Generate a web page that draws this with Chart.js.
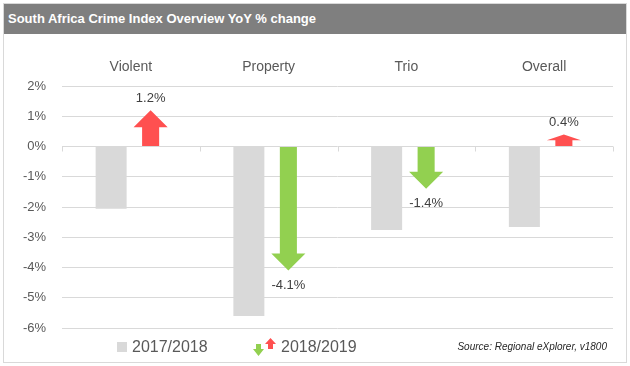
<!DOCTYPE html>
<html>
<head>
<meta charset="utf-8">
<script src="https://cdn.jsdelivr.net/npm/chart.js@4.4.1/dist/chart.umd.min.js"></script>
<style>
  body { margin:0; background:#fff; font-family:"Liberation Sans", Arial, sans-serif; }
  #frame { position:absolute; left:3px; top:3px; width:622px; height:358px; border:1px solid #d9d9d9; }
  #title { position:absolute; left:4px; top:4px; width:622px; height:30px; background:#7f7f7f;
           color:#fff; font-weight:bold; font-size:13px; line-height:30px; text-indent:4px; }
  #wrap { position:absolute; left:4px; top:34px; width:622px; height:328px; }
  .lg { position:absolute; font-size:16px; color:#595959; line-height:18px; }
  #src { position:absolute; right:23px; top:341px; font-size:10px; font-style:italic; color:#262626; }
</style>
</head>
<body>
<div id="frame"></div>
<div id="title">South Africa Crime Index Overview YoY % change</div>
<div id="wrap"><canvas id="chart"></canvas></div>
<div style="position:absolute;left:117px;top:342px;width:10px;height:10px;background:#d9d9d9"></div>
<div class="lg" style="left:132px;top:338px">2017/2018</div>
<svg style="position:absolute;left:253px;top:338px" width="24" height="18">
  <polygon points="3,6 8,6 8,11 11,11 5.5,18 0,11 3,11" fill="#92d050"/>
  <polygon points="15,11 20,11 20,6 23,6 17.5,0 12,6 15,6" fill="#ff5050"/>
</svg>
<div class="lg" style="left:281px;top:338px">2018/2019</div>
<div id="src">Source: Regional eXplorer, v1800</div>
<script>
// категории и значения
const categories = ['Violent', 'Property', 'Trio', 'Overall'];
const prevYear = [-2.06, -5.6, -2.76, -2.66];   // 2017/2018
const curYear = [1.2, -4.1, -1.4, 0.4];         // 2018/2019
const yTicks = [2, 1, 0, -1, -2, -3, -4, -5, -6];

// стрелки вместо столбцов второго ряда
const arrowPlugin = {
  id: 'arrows',
  afterDatasetsDraw(chart) {
    const ctx = chart.ctx;
    const meta = chart.getDatasetMeta(1);
    const ys = chart.scales.y, xs = chart.scales.x;
    const y0 = ys.getPixelForValue(0);
    // засечки на нулевой линии
    const cw = (xs.right - xs.left) / categories.length;
    ctx.save();
    ctx.strokeStyle = '#d9d9d9';
    ctx.lineWidth = 1;
    for (let i = 0; i <= categories.length; i++) {
      const x = Math.round(xs.left + i * cw) + 0.5;
      ctx.beginPath(); ctx.moveTo(x, y0); ctx.lineTo(x, y0 + 5); ctx.stroke();
    }
    meta.data.forEach((bar, i) => {
      const v = curYear[i];
      const x = bar.x, tip = bar.y, base = bar.base;
      const w = bar.width;
      const dir = v >= 0 ? -1 : 1;
      const len = Math.abs(base - tip);
      const head = Math.min(17, len * 0.5);
      const sw = w * 0.55 / 2, hw = w * 1.1 / 2;
      const neck = tip - dir * head;
      ctx.fillStyle = v >= 0 ? '#ff5050' : '#92d050';
      ctx.beginPath();
      ctx.moveTo(x - sw, base);
      ctx.lineTo(x - sw, neck);
      ctx.lineTo(x - hw, neck);
      ctx.lineTo(x, tip);
      ctx.lineTo(x + hw, neck);
      ctx.lineTo(x + sw, neck);
      ctx.lineTo(x + sw, base);
      ctx.closePath();
      ctx.fill();
      ctx.fillStyle = '#404040';
      ctx.font = '13px "Liberation Sans", Arial, sans-serif';
      ctx.textAlign = 'center';
      ctx.textBaseline = 'middle';
      ctx.fillText(v.toFixed(1) + '%', x, v >= 0 ? tip - 12 : tip + 15);
    });
    ctx.restore();
  }
};

new Chart(document.getElementById('chart'), {
  type: 'bar',
  data: {
    labels: categories,
    datasets: [
      { label: '2017/2018', data: prevYear, backgroundColor: '#d9d9d9',
        categoryPercentage: 0.5735, barPercentage: 0.785 },
      { label: '2018/2019', data: curYear, backgroundColor: 'rgba(0,0,0,0)',
        categoryPercentage: 0.5735, barPercentage: 0.785 }
    ]
  },
  options: {
    responsive: true,
    maintainAspectRatio: false,
    animation: false,
    events: [],
    layout: { padding: { left: 0, right: 13, top: 0, bottom: 34 } },
    plugins: { legend: { display: false }, tooltip: { enabled: false } },
    scales: {
      x: {
        position: 'top',
        grid: { display: false },
        border: { display: false },
        ticks: { color: '#595959', font: { family: '"Liberation Sans", Arial, sans-serif', size: 14 }, padding: 2 },
        afterFit: s => { s.height = 52; }
      },
      y: {
        min: -6, max: 2,
        afterBuildTicks: s => { s.ticks = yTicks.map(v => ({ value: v })); },
        grid: { color: '#d9d9d9', drawTicks: false },
        border: { display: false },
        ticks: { color: '#595959', font: { family: '"Liberation Sans", Arial, sans-serif', size: 13 },
                 padding: 16, callback: v => v + '%' },
        afterFit: s => { s.width = 58; }
      }
    }
  },
  plugins: [arrowPlugin]
});
</script>
</body>
</html>
